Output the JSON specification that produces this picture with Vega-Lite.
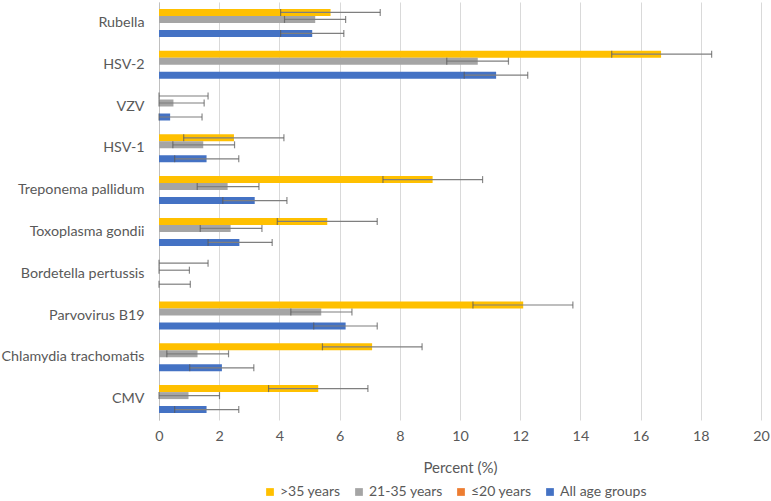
{
  "$schema": "https://vega.github.io/schema/vega-lite/v6.json",
  "width": 602,
  "height": 418,
  "autosize": "none",
  "padding": {"left": 159, "top": 2, "right": 10, "bottom": 81},
  "config": {
    "font": "Lato",
    "view": {"stroke": null},
    "axis": {"labelColor": "#595959", "titleColor": "#595959", "labelFontSize": 14.3, "titleFontSize": 15, "titleFontWeight": "normal"},
    "legend": {"labelColor": "#595959", "labelFontSize": 14}
  },
  "data": {
    "values": [
      {"pathogen": "Rubella", "group": ">35 years", "value": 5.7, "lo": 4.04, "hi": 7.35},
      {"pathogen": "Rubella", "group": "21-35 years", "value": 5.19, "lo": 4.17, "hi": 6.2},
      {"pathogen": "Rubella", "group": "≤20 years", "value": 0},
      {"pathogen": "Rubella", "group": "All age groups", "value": 5.09, "lo": 4.04, "hi": 6.14},
      {"pathogen": "HSV-2", "group": ">35 years", "value": 16.68, "lo": 15.04, "hi": 18.36},
      {"pathogen": "HSV-2", "group": "21-35 years", "value": 10.59, "lo": 9.56, "hi": 11.61},
      {"pathogen": "HSV-2", "group": "≤20 years", "value": 0},
      {"pathogen": "HSV-2", "group": "All age groups", "value": 11.2, "lo": 10.14, "hi": 12.25},
      {"pathogen": "VZV", "group": ">35 years", "value": 0, "lo": 0, "hi": 1.63},
      {"pathogen": "VZV", "group": "21-35 years", "value": 0.48, "lo": 0, "hi": 1.5},
      {"pathogen": "VZV", "group": "≤20 years", "value": 0},
      {"pathogen": "VZV", "group": "All age groups", "value": 0.37, "lo": 0, "hi": 1.43},
      {"pathogen": "HSV-1", "group": ">35 years", "value": 2.49, "lo": 0.82, "hi": 4.15},
      {"pathogen": "HSV-1", "group": "21-35 years", "value": 1.47, "lo": 0.46, "hi": 2.51},
      {"pathogen": "HSV-1", "group": "≤20 years", "value": 0},
      {"pathogen": "HSV-1", "group": "All age groups", "value": 1.58, "lo": 0.52, "hi": 2.65},
      {"pathogen": "Treponema pallidum", "group": ">35 years", "value": 9.09, "lo": 7.44, "hi": 10.75},
      {"pathogen": "Treponema pallidum", "group": "21-35 years", "value": 2.28, "lo": 1.27, "hi": 3.32},
      {"pathogen": "Treponema pallidum", "group": "≤20 years", "value": 0},
      {"pathogen": "Treponema pallidum", "group": "All age groups", "value": 3.18, "lo": 2.12, "hi": 4.25},
      {"pathogen": "Toxoplasma gondii", "group": ">35 years", "value": 5.59, "lo": 3.93, "hi": 7.25},
      {"pathogen": "Toxoplasma gondii", "group": "21-35 years", "value": 2.38, "lo": 1.37, "hi": 3.42},
      {"pathogen": "Toxoplasma gondii", "group": "≤20 years", "value": 0},
      {"pathogen": "Toxoplasma gondii", "group": "All age groups", "value": 2.67, "lo": 1.63, "hi": 3.76},
      {"pathogen": "Bordetella pertussis", "group": ">35 years", "value": 0, "lo": 0, "hi": 1.63},
      {"pathogen": "Bordetella pertussis", "group": "21-35 years", "value": 0, "lo": 0, "hi": 1.01},
      {"pathogen": "Bordetella pertussis", "group": "≤20 years", "value": 0},
      {"pathogen": "Bordetella pertussis", "group": "All age groups", "value": 0, "lo": 0, "hi": 1.04},
      {"pathogen": "Parvovirus B19", "group": ">35 years", "value": 12.1, "lo": 10.43, "hi": 13.75},
      {"pathogen": "Parvovirus B19", "group": "21-35 years", "value": 5.39, "lo": 4.38, "hi": 6.41},
      {"pathogen": "Parvovirus B19", "group": "≤20 years", "value": 0},
      {"pathogen": "Parvovirus B19", "group": "All age groups", "value": 6.2, "lo": 5.14, "hi": 7.25},
      {"pathogen": "Chlamydia trachomatis", "group": ">35 years", "value": 7.08, "lo": 5.43, "hi": 8.74},
      {"pathogen": "Chlamydia trachomatis", "group": "21-35 years", "value": 1.28, "lo": 0.26, "hi": 2.31},
      {"pathogen": "Chlamydia trachomatis", "group": "≤20 years", "value": 0},
      {"pathogen": "Chlamydia trachomatis", "group": "All age groups", "value": 2.09, "lo": 1.02, "hi": 3.15},
      {"pathogen": "CMV", "group": ">35 years", "value": 5.29, "lo": 3.64, "hi": 6.94},
      {"pathogen": "CMV", "group": "21-35 years", "value": 0.98, "lo": 0, "hi": 2.01},
      {"pathogen": "CMV", "group": "≤20 years", "value": 0},
      {"pathogen": "CMV", "group": "All age groups", "value": 1.58, "lo": 0.52, "hi": 2.65}
    ]
  },
  "encoding": {
    "y": {
      "field": "pathogen", "type": "nominal",
      "sort": ["Rubella", "HSV-2", "VZV", "HSV-1", "Treponema pallidum", "Toxoplasma gondii", "Bordetella pertussis", "Parvovirus B19", "Chlamydia trachomatis", "CMV"],
      "scale": {"paddingInner": 0.33, "paddingOuter": 0.165},
      "axis": {"title": null, "ticks": false, "domainColor": "#bfbfbf", "labelPadding": 15, "labelLimit": 200}
    },
    "yOffset": {
      "field": "group", "type": "nominal",
      "sort": [">35 years", "21-35 years", "≤20 years", "All age groups"],
      "scale": {"paddingInner": 0, "paddingOuter": 0}
    }
  },
  "layer": [
    {
      "mark": {"type": "bar"},
      "encoding": {
        "x": {
          "field": "value", "type": "quantitative",
          "scale": {"domain": [0, 20], "nice": false},
          "axis": {"values": [0, 2, 4, 6, 8, 10, 12, 14, 16, 18, 20], "labelFlush": false, "title": "Percent (%)", "grid": true, "gridColor": "#d9d9d9", "domain": false, "ticks": false, "labelPadding": 9, "titlePadding": 17}
        },
        "color": {
          "field": "group", "type": "nominal",
          "sort": [">35 years", "21-35 years", "≤20 years", "All age groups"],
          "scale": {"domain": [">35 years", "21-35 years", "≤20 years", "All age groups"], "range": ["#FFC000", "#A5A5A5", "#ED7D31", "#4472C4"]},
          "legend": {"title": null, "orient": "none", "direction": "horizontal", "columns": 4, "legendX": 104, "legendY": 483, "symbolType": "square", "symbolSize": 60, "symbolStrokeWidth": 0, "columnPadding": 11, "labelOffset": 3}
        }
      }
    },
    {
      "transform": [{"filter": "isValid(datum.hi)"}],
      "mark": {"type": "rule", "color": "#7f7f7f", "strokeWidth": 1.2},
      "encoding": {"x": {"field": "lo", "type": "quantitative"}, "x2": {"field": "hi"}}
    },
    {
      "transform": [{"filter": "isValid(datum.hi)"}],
      "mark": {"type": "tick", "color": "#595959", "thickness": 1.2, "size": 7},
      "encoding": {"x": {"field": "lo", "type": "quantitative"}}
    },
    {
      "transform": [{"filter": "isValid(datum.hi)"}],
      "mark": {"type": "tick", "color": "#595959", "thickness": 1.2, "size": 7},
      "encoding": {"x": {"field": "hi", "type": "quantitative"}}
    }
  ]
}
